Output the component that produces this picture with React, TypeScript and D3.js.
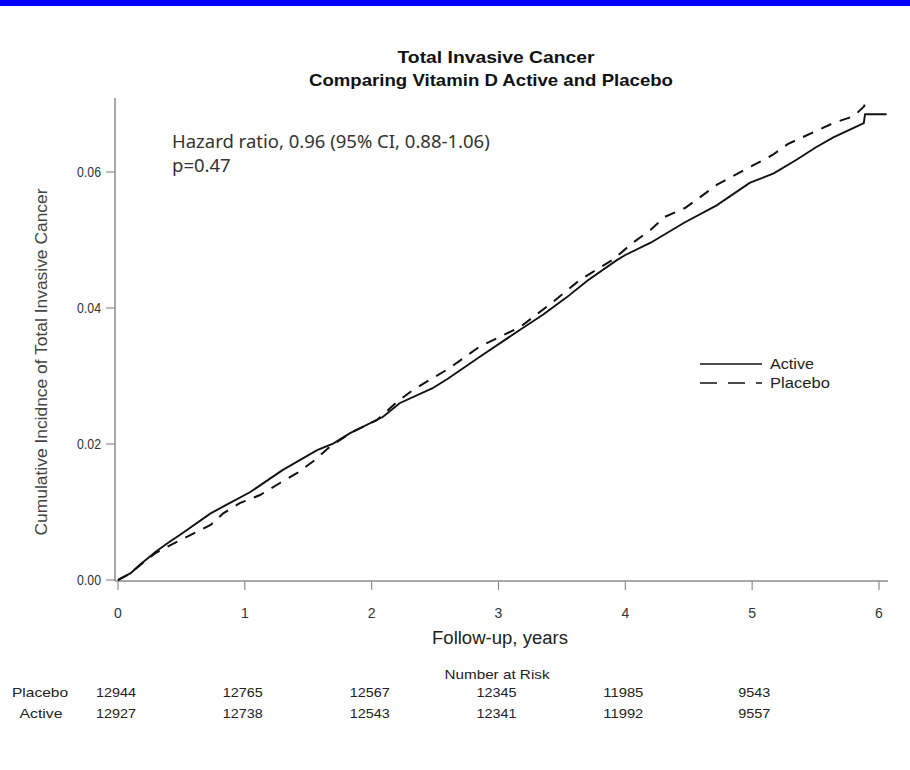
import React from 'react'
import * as d3 from 'd3'

// Kaplan-Meier style cumulative incidence
const activeYears = [0, 0.1, 0.17, 0.3, 0.39, 0.51, 0.73, 0.85, 1.04, 1.3, 1.57, 1.7, 1.83, 2.09, 2.22, 2.48, 2.6, 2.85, 3.17, 3.35, 3.54, 3.7, 3.93, 4.0, 4.2, 4.46, 4.72, 4.98, 5.17, 5.35, 5.5, 5.64, 5.8, 5.88, 5.89, 6.06]
const activeValues = [0, 0.001, 0.0022, 0.0042, 0.0054, 0.0069, 0.0098, 0.011, 0.0129, 0.0162, 0.0191, 0.0201, 0.0216, 0.024, 0.026, 0.0282, 0.0296, 0.0328, 0.0368, 0.039, 0.0416, 0.044, 0.047, 0.0478, 0.0496, 0.0525, 0.0551, 0.0584, 0.0598, 0.0618, 0.0636, 0.0651, 0.0665, 0.0672, 0.0685, 0.0685]

const placeboYears = [0, 0.1, 0.2, 0.3, 0.41, 0.57, 0.73, 0.83, 0.96, 1.12, 1.28, 1.41, 1.55, 1.67, 1.85, 2.04, 2.2, 2.33, 2.6, 2.85, 3.17, 3.43, 3.64, 3.9, 4.06, 4.2, 4.31, 4.47, 4.59, 4.72, 4.87, 5.01, 5.16, 5.28, 5.64, 5.8, 5.88, 5.9]
const placeboValues = [0, 0.001, 0.0026, 0.004, 0.0051, 0.0066, 0.0081, 0.0098, 0.0113, 0.0125, 0.0143, 0.0157, 0.0176, 0.0196, 0.0218, 0.0235, 0.0262, 0.028, 0.031, 0.0343, 0.0372, 0.0409, 0.0441, 0.0471, 0.0496, 0.0515, 0.0534, 0.0547, 0.0563, 0.0581, 0.0596, 0.061, 0.0625, 0.0641, 0.0672, 0.0682, 0.0696, 0.0704]

const xTicks = [0, 1, 2, 3, 4, 5, 6]
const yTicks = [0, 0.02, 0.04, 0.06]

const riskYears = [0, 1, 2, 3, 4, 5]
const placeboAtRisk = [12944, 12765, 12567, 12345, 11985, 9543]
const activeAtRisk = [12927, 12738, 12543, 12341, 11992, 9557]

const W = 910
const H = 770
const sans = 'Liberation Sans, Arial, sans-serif'
const axisColor = '#8c8c8c'

export default function App() {
  const x = d3.scaleLinear().domain([0, 6]).range([118, 879])
  const y = d3.scaleLinear().domain([0, 0.06]).range([580, 172])

  const line = d3
    .line<[number, number]>()
    .x(d => x(d[0]))
    .y(d => y(d[1]))

  const active = activeYears.map((t, i) => [t, activeValues[i]] as [number, number])
  const placebo = placeboYears.map((t, i) => [t, placeboValues[i]] as [number, number])

  const axisLeft = 115
  const axisTop = 98

  return (
    <svg
      width={W}
      height={H}
      style={{position: 'absolute', left: 0, top: 0, background: '#fff'}}>
      <rect x={0} y={0} width={W} height={6} fill="#0000ff" />

      {/* title */}
      <text x={496} y={63} textAnchor="middle" fontFamily={sans} fontWeight="bold" fontSize={16.5} fill="#111"
        textLength={197} lengthAdjust="spacingAndGlyphs">
        Total Invasive Cancer
      </text>
      <text x={491} y={86} textAnchor="middle" fontFamily={sans} fontWeight="bold" fontSize={16.5} fill="#111"
        textLength={364} lengthAdjust="spacingAndGlyphs">
        Comparing Vitamin D Active and Placebo
      </text>

      {/* axes */}
      <line x1={axisLeft} x2={axisLeft} y1={axisTop} y2={581} stroke={axisColor} strokeWidth={1.5} />
      <line x1={axisLeft} x2={888} y1={581} y2={581} stroke={axisColor} strokeWidth={1.5} />
      {yTicks.map(t => (
        <g key={t}>
          <line x1={axisLeft - 9} x2={axisLeft} y1={y(t)} y2={y(t)} stroke={axisColor} strokeWidth={1.2} />
          <text x={101} y={y(t) + 5} textAnchor="end" fontFamily={sans} fontSize={14} fill="#333"
            textLength={24} lengthAdjust="spacingAndGlyphs">
            {t.toFixed(2)}
          </text>
        </g>
      ))}
      {xTicks.map(t => (
        <g key={t}>
          <line x1={x(t)} x2={x(t)} y1={581} y2={590} stroke={axisColor} strokeWidth={1.2} />
          <text x={x(t)} y={618} textAnchor="middle" fontFamily={sans} fontSize={14} fill="#333">
            {t}
          </text>
        </g>
      ))}
      <text x={500} y={644} textAnchor="middle" fontFamily={sans} fontSize={18} fill="#222"
        textLength={136} lengthAdjust="spacingAndGlyphs">
        Follow-up, years
      </text>
      <text
        transform={`translate(47,362) rotate(-90)`}
        textAnchor="middle"
        fontFamily={sans}
        fontSize={16}
        fill="#444"
        textLength={347}
        lengthAdjust="spacingAndGlyphs">
        Cumulative Incidnce of Total Invasive Cancer
      </text>

      {/* annotation */}
      <text x={172} y={148} fontFamily="Noto Sans, sans-serif" fontSize={18.5} fill="#333">
        Hazard ratio, 0.96 (95% CI, 0.88-1.06)
      </text>
      <text x={172} y={172} fontFamily="Noto Sans, sans-serif" fontSize={18.5} fill="#333">
        p=0.47
      </text>

      {/* curves */}
      <path d={line(placebo) || ''} fill="none" stroke="#111" strokeWidth={2} strokeDasharray="11 9" />
      <path d={line(active) || ''} fill="none" stroke="#111" strokeWidth={1.9} />

      {/* legend */}
      <line x1={700} x2={762} y1={364} y2={364} stroke="#111" strokeWidth={1.6} />
      <text x={770} y={369} fontFamily={sans} fontSize={14} fill="#222" textLength={44} lengthAdjust="spacingAndGlyphs">
        Active
      </text>
      <line x1={700} x2={762} y1={383} y2={383} stroke="#111" strokeWidth={1.6} strokeDasharray="17 11" />
      <text x={770} y={388} fontFamily={sans} fontSize={14} fill="#222" textLength={60} lengthAdjust="spacingAndGlyphs">
        Placebo
      </text>

      {/* number at risk */}
      <text x={497} y={679} textAnchor="middle" fontFamily={sans} fontSize={13} fill="#222"
        textLength={105} lengthAdjust="spacingAndGlyphs">
        Number at Risk
      </text>
      <text x={40} y={697} textAnchor="middle" fontFamily={sans} fontSize={13} fill="#222"
        textLength={56} lengthAdjust="spacingAndGlyphs">
        Placebo
      </text>
      <text x={41} y={718} textAnchor="middle" fontFamily={sans} fontSize={13} fill="#222"
        textLength={43} lengthAdjust="spacingAndGlyphs">
        Active
      </text>
      {riskYears.map((t, i) => (
        <g key={t}>
          <text x={x(t) + 18} y={697} textAnchor="end" fontFamily={sans} fontSize={13} fill="#222"
            textLength={String(placeboAtRisk[i]).length * 8} lengthAdjust="spacingAndGlyphs">
            {placeboAtRisk[i]}
          </text>
          <text x={x(t) + 18} y={718} textAnchor="end" fontFamily={sans} fontSize={13} fill="#222"
            textLength={String(activeAtRisk[i]).length * 8} lengthAdjust="spacingAndGlyphs">
            {activeAtRisk[i]}
          </text>
        </g>
      ))}
    </svg>
  )
}
